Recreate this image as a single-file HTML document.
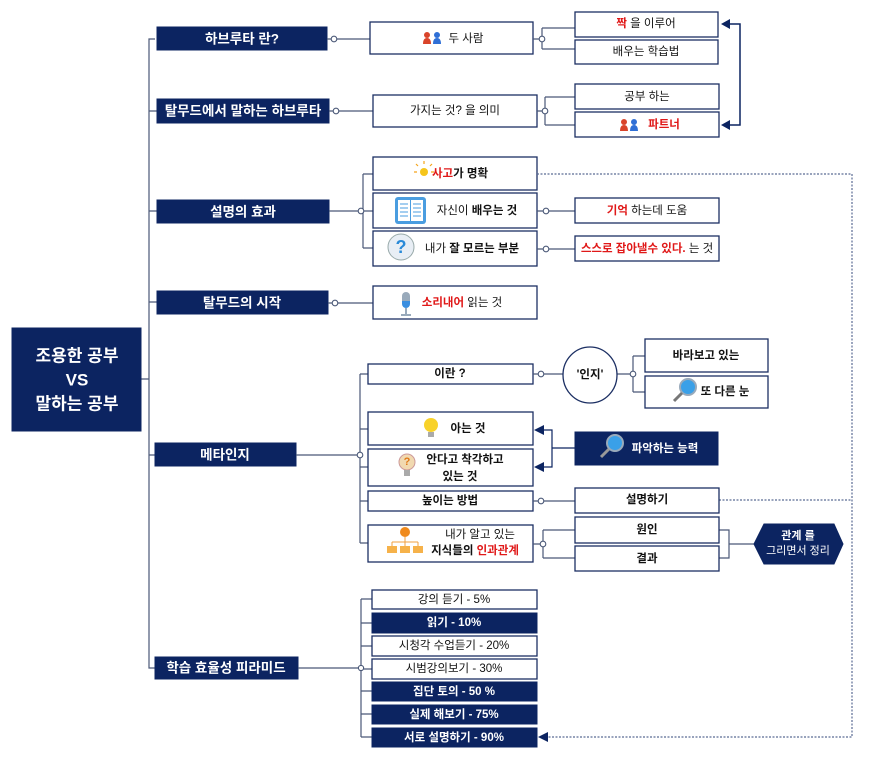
<!DOCTYPE html>
<html><head><meta charset="utf-8"><style>
html,body{margin:0;padding:0;background:#fff;}
svg{display:block;font-family:"Liberation Sans","Noto Sans CJK KR",sans-serif;}
.w{fill:#fff;stroke:#1c2f63;stroke-width:1.3}
.d{fill:#0c2461;stroke:#0c2461}
.l{fill:none;stroke:#4a5877;stroke-width:1.2}
.c{fill:#fff;stroke:#4a5877;stroke-width:1.1}
.dot{fill:none;stroke:#5b6c94;stroke-width:1.2;stroke-dasharray:2 1.5}
text{font-size:11.5px;fill:#111;text-anchor:middle;dominant-baseline:central}
.tw{fill:#fff;font-weight:bold;font-size:13.5px}
.b{font-weight:bold}
.r{fill:#e01818}
.a{fill:#0c2461}
</style></head><body>
<svg width="880" height="757" viewBox="0 0 880 757">
<!-- trunk -->
<path class="l" d="M141 379H149 M155 39H149V668H155 M149 111H157 M149 211H157 M149 302H157 M149 455H155"/>
<!-- root -->
<rect x="12" y="328" width="129" height="103" class="d"/>
<text x="77" y="356" class="tw" style="font-size:17px">조용한 공부</text>
<text x="77" y="380" class="tw" style="font-size:17px">VS</text>
<text x="77" y="404" class="tw" style="font-size:17px">말하는 공부</text>

<!-- main nodes -->
<rect x="157" y="27" width="170" height="23" class="d"/><text x="242" y="39" class="tw">하브루타 란?</text>
<rect x="157" y="99" width="172" height="24" class="d"/><text x="243" y="111" class="tw">탈무드에서 말하는 하브루타</text>
<rect x="157" y="200" width="172" height="23" class="d"/><text x="243" y="212" class="tw">설명의 효과</text>
<rect x="157" y="291" width="171" height="23" class="d"/><text x="242" y="303" class="tw">탈무드의 시작</text>
<rect x="155" y="443" width="141" height="23" class="d"/><text x="225" y="455" class="tw">메타인지</text>
<rect x="155" y="657" width="143" height="22" class="d"/><text x="226" y="668" class="tw">학습 효율성 피라미드</text>

<!-- connectors level1->2 -->
<path class="l" d="M327 39H370 M329 111H373 M329 211H363 M363 174V248 M363 174H373 M363 211H373 M363 248H373 M328 303H373"/>
<circle cx="334" cy="39" r="2.8" class="c"/><circle cx="336" cy="111" r="2.8" class="c"/>
<circle cx="361" cy="211" r="2.8" class="c"/><circle cx="335" cy="303" r="2.8" class="c"/>

<!-- level2 -->
<rect x="370" y="22" width="163" height="32" class="w"/>
<g transform="translate(423,32)"><circle cx="4" cy="3" r="3" fill="#d9442a"/><path d="M0 12Q0 6 4 6Q8 6 8 12Z" fill="#d9442a"/><circle cx="14" cy="3" r="3" fill="#2f6fd6"/><path d="M10 12Q10 6 14 6Q18 6 18 12Z" fill="#2f6fd6"/></g>
<text x="466" y="39">두 사람</text>
<rect x="373" y="95" width="164" height="32" class="w"/><text x="455" y="111">가지는 것? 을 의미</text>
<rect x="373" y="157" width="164" height="33" class="w"/>
<circle cx="424" cy="172" r="4" fill="#f5c51c"/><path d="M418 166l-2-2M430 166l2-2M424 164v-3M417 172h-3M431 172h3" stroke="#f5a51c" stroke-width="1.2"/>
<text x="460" y="174" class="b"><tspan class="r">사고</tspan>가 명확</text>
<rect x="373" y="193" width="164" height="35" class="w"/>
<rect x="395" y="197" width="31" height="27" rx="3" fill="#4a9de0"/><rect x="398" y="200" width="12" height="21" fill="#fff"/><rect x="411" y="200" width="12" height="21" fill="#fff"/>
<path d="M400 204h8M400 208h8M400 212h8M400 216h8M413 204h8M413 208h8M413 212h8M413 216h8" stroke="#4a9de0"/>
<text x="477" y="211">자신이 <tspan class="b">배우는 것</tspan></text>
<rect x="373" y="231" width="164" height="35" class="w"/>
<circle cx="401" cy="247" r="13" fill="#e8eef5" stroke="#9aa"/><text x="401" y="247" style="font-size:18px;fill:#2a8ad8;font-weight:bold">?</text>
<text x="472" y="249">내가 <tspan class="b">잘 모르는 부분</tspan></text>
<rect x="373" y="286" width="164" height="33" class="w"/>
<rect x="402" y="292" width="8" height="14" rx="4" fill="#9ab"/><path d="M402 301h8v3a4 4 0 0 1-8 0z" fill="#3a8ee0"/><path d="M406 308v6M401 315h10" stroke="#9ab" stroke-width="2"/>
<text x="462" y="303"><tspan class="r b">소리내어</tspan> 읽는 것</text>

<!-- level3 top -->
<path class="l" d="M533 39H542 M542 28V49 M542 28H575 M542 49H575 M537 111H545 M545 97V125 M545 97H575 M545 125H575 M537 211H575 M537 249H575"/>
<circle cx="542" cy="39" r="2.8" class="c"/><circle cx="545" cy="111" r="2.8" class="c"/>
<circle cx="546" cy="211" r="2.8" class="c"/><circle cx="546" cy="249" r="2.8" class="c"/>
<rect x="575" y="12" width="143" height="25" class="w"/><text x="646" y="24"><tspan class="r b">짝</tspan> 을 이루어</text>
<rect x="575" y="40" width="143" height="24" class="w"/><text x="646" y="52">배우는 학습법</text>
<rect x="575" y="84" width="144" height="25" class="w"/><text x="647" y="97">공부 하는</text>
<rect x="575" y="112" width="144" height="25" class="w"/>
<g transform="translate(620,119)"><circle cx="4" cy="3" r="3" fill="#d9442a"/><path d="M0 12Q0 6 4 6Q8 6 8 12Z" fill="#d9442a"/><circle cx="14" cy="3" r="3" fill="#2f6fd6"/><path d="M10 12Q10 6 14 6Q18 6 18 12Z" fill="#2f6fd6"/></g>
<text x="664" y="125" class="r b">파트너</text>
<rect x="575" y="198" width="144" height="25" class="w"/><text x="647" y="211"><tspan class="r b">기억</tspan> 하는데 도움</text>
<rect x="575" y="236" width="144" height="25" class="w"/><text x="647" y="249"><tspan class="r b">스스로 잡아낼수 있다.</tspan> 는 것</text>
<path d="M729 24H740V125H729" fill="none" stroke="#0c2461" stroke-width="1.5"/>
<path d="M721 24l9-5v10z M721 125l9-5v10z" class="a"/>

<!-- dotted -->
<path class="dot" d="M537 174H852V737H546 M719 500H852"/>
<path d="M538 737l10-5v10z" class="a"/>

<!-- meta -->
<path class="l" d="M296 455H360 M360 374V543 M360 374H368 M360 429H368 M360 467H368 M360 501H368 M360 543H368"/>
<circle cx="360" cy="455" r="2.8" class="c"/>
<rect x="368" y="364" width="165" height="20" class="w"/><text x="450" y="374" class="b">이란 ?</text>
<path class="l" d="M533 374H563 M617 374H633 M633 356V392 M633 356H645 M633 392H645"/>
<circle cx="541" cy="374" r="2.8" class="c"/><circle cx="633" cy="374" r="2.8" class="c"/>
<ellipse cx="590" cy="375" rx="27" ry="28" class="w"/><text x="590" y="375" class="b">'인지'</text>
<rect x="645" y="339" width="123" height="33" class="w"/><text x="706" y="356" class="b">바라보고 있는</text>
<rect x="645" y="376" width="123" height="32" class="w"/>
<circle cx="688" cy="387" r="8" fill="#3aa0e8" stroke="#9ab" stroke-width="2"/><path d="M682 393l-8 8" stroke="#777" stroke-width="3"/>
<text x="725" y="392" class="b">또 다른 눈</text>
<rect x="368" y="412" width="165" height="33" class="w"/>
<circle cx="431" cy="425" r="7" fill="#f8d22a"/><rect x="428" y="432" width="6" height="5" fill="#aaa"/>
<text x="468" y="429" class="b">아는 것</text>
<rect x="368" y="449" width="165" height="37" class="w"/>
<circle cx="407" cy="462" r="8" fill="#f1d9b0" stroke="#c99"/><text x="407" y="462" style="font-size:11px;fill:#e07a18;font-weight:bold">?</text><rect x="404" y="470" width="6" height="6" fill="#aaa"/>
<text x="465" y="460" class="b">안다고 착각하고</text><text x="460" y="477" class="b">있는 것</text>
<path class="l" d="M543 430H552V467H543 M552 448H575" style="stroke:#0c2461"/>
<path d="M534 430l10-5v10z M534 467l10-5v10z" class="a"/>
<rect x="575" y="432" width="143" height="33" class="d"/>
<circle cx="615" cy="443" r="8" fill="#3aa0e8" stroke="#9ab" stroke-width="2"/><path d="M609 449l-8 8" stroke="#999" stroke-width="3"/>
<text x="665" y="449" class="tw" style="font-size:11.5px">파악하는 능력</text>
<rect x="368" y="491" width="165" height="20" class="w"/><text x="450" y="501" class="b">높이는 방법</text>
<path class="l" d="M533 501H575"/><circle cx="541" cy="501" r="2.8" class="c"/>
<rect x="575" y="488" width="144" height="25" class="w"/><text x="647" y="500" class="b">설명하기</text>
<rect x="368" y="525" width="165" height="37" class="w"/>
<circle cx="405" cy="532" r="5" fill="#f08a1c"/><path d="M405 537v5M392 542h26M392 542v4M405 542v4M418 542v4" stroke="#f0a040"/>
<rect x="387" y="546" width="10" height="7" fill="#f6b24a"/><rect x="400" y="546" width="10" height="7" fill="#f6b24a"/><rect x="413" y="546" width="10" height="7" fill="#f6b24a"/>
<text x="480" y="535">내가 알고 있는</text><text x="475" y="551" class="b">지식들의 <tspan class="r">인과관계</tspan></text>
<path class="l" d="M533 544H543 M543 530V558 M543 530H575 M543 558H575 M719 530H729V558H719 M729 544H755"/>
<circle cx="543" cy="544" r="2.8" class="c"/>
<rect x="575" y="517" width="144" height="26" class="w"/><text x="647" y="530" class="b">원인</text>
<rect x="575" y="546" width="144" height="25" class="w"/><text x="647" y="559" class="b">결과</text>
<path d="M764 524H834L843 544L834 564H764L754 544Z" class="d"/>
<text x="798" y="536" class="tw" style="font-size:11px">관계 를</text><text x="798" y="551" class="tw" style="font-size:11px;font-weight:normal">그리면서 정리</text>

<!-- pyramid -->
<path class="l" d="M298 668H361 M361 599V737 M361 599H372 M361 623H372 M361 646H372 M361 669H372 M361 691H372 M361 714H372 M361 737H372"/>
<circle cx="361" cy="668" r="2.6" class="c"/>
<rect x="372" y="590" width="165" height="19" class="w"/><text x="454" y="600">강의 듣기 - 5%</text>
<rect x="372" y="613" width="165" height="20" class="d"/><text x="454" y="623" class="tw" style="font-size:11.5px">읽기 - 10%</text>
<rect x="372" y="636" width="165" height="20" class="w"/><text x="454" y="646">시청각 수업듣기 - 20%</text>
<rect x="372" y="659" width="165" height="20" class="w"/><text x="454" y="669">시범강의보기 - 30%</text>
<rect x="372" y="682" width="165" height="19" class="d"/><text x="454" y="692" class="tw" style="font-size:11.5px">집단 토의 - 50 %</text>
<rect x="372" y="705" width="165" height="19" class="d"/><text x="454" y="715" class="tw" style="font-size:11.5px">실제 해보기 - 75%</text>
<rect x="372" y="728" width="165" height="19" class="d"/><text x="454" y="738" class="tw" style="font-size:11.5px">서로 설명하기 - 90%</text>
</svg>
</body></html>
